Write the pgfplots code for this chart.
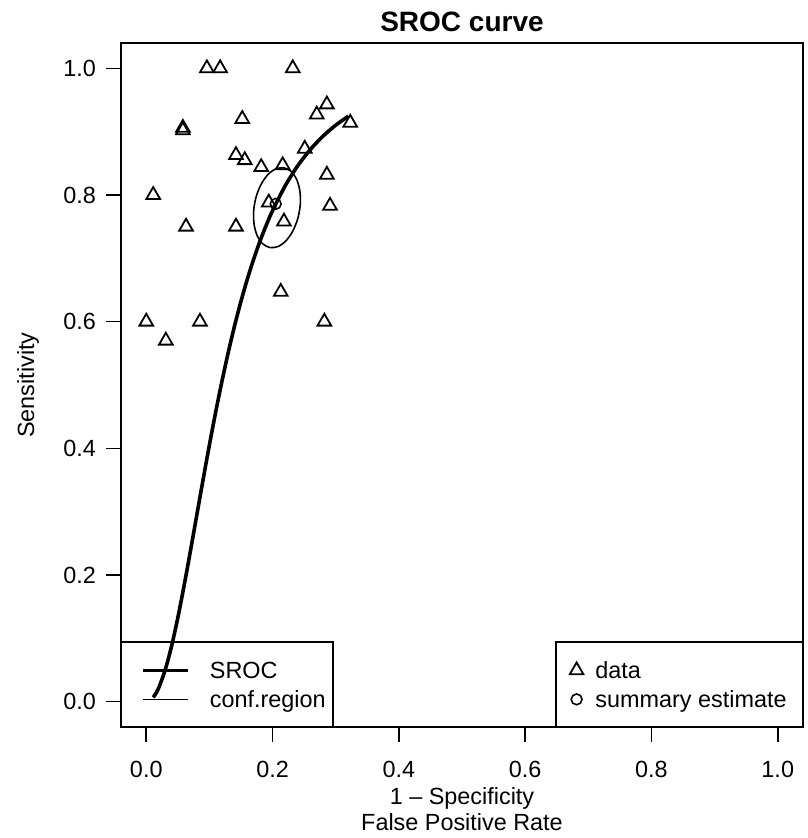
\documentclass[border=0pt]{standalone}
\usepackage{fontspec}
\setmainfont{Liberation Sans}
\usepackage{pgfplots}
\pgfplotsset{compat=1.18}

% SROC curve (fitted line)
\pgfplotstableread{
x y
0.011 0.0068
0.015 0.0126
0.020 0.0225
0.030 0.0502
0.040 0.0874
0.050 0.1326
0.060 0.1836
0.070 0.2382
0.080 0.2945
0.090 0.3506
0.100 0.4053
0.110 0.4575
0.120 0.5065
0.130 0.5521
0.140 0.5940
0.150 0.6322
0.160 0.6670
0.170 0.6984
0.180 0.7268
0.190 0.7523
0.200 0.7753
0.220 0.8145
0.240 0.8463
0.260 0.8720
0.280 0.8930
0.300 0.9102
0.320 0.9244
}\sroc

% confidence region
\pgfplotstableread{
x y
0.2181 0.8430
0.2296 0.8371
0.2383 0.8243
0.2433 0.8061
0.2439 0.7848
0.2400 0.7629
0.2321 0.7431
0.2213 0.7277
0.2087 0.7186
0.1959 0.7170
0.1844 0.7229
0.1757 0.7357
0.1707 0.7539
0.1701 0.7752
0.1740 0.7971
0.1819 0.8169
0.1927 0.8323
0.2053 0.8414
0.2181 0.8430
}\confreg

% study data (fpr, sens)
\pgfplotstableread{
x y
0.096 1.000
0.117 1.000
0.232 1.000
0.286 0.943
0.270 0.927
0.323 0.914
0.152 0.920
0.058 0.906
0.058 0.902
0.142 0.863
0.156 0.855
0.251 0.873
0.182 0.844
0.216 0.847
0.286 0.832
0.011 0.800
0.291 0.783
0.194 0.788
0.218 0.758
0.063 0.750
0.142 0.750
0.213 0.647
0.000 0.600
0.085 0.600
0.282 0.600
0.031 0.570
}\studies

\begin{document}
\fontsize{11.7}{14}\selectfont
\begin{tikzpicture}
\pgfplotsset{
  srocbase/.style={
    width=341pt, height=342pt, scale only axis,
    xmin=-0.04, xmax=1.04, ymin=-0.04, ymax=1.04,
  },
  legbase/.style={
    legend style={anchor=north west, draw=none, fill=none, inner sep=0pt,
      cells={anchor=west}, row sep=2.5pt,
      nodes={inner sep=0pt, text height=10pt, text depth=2pt,
        font=\fontsize{11.7}{14}\selectfont}},
  },
}
\begin{axis}[srocbase, legbase, clip=false,
  axis line style={line width=0.8pt},
  tick style={line width=0.8pt, black},
  tick align=outside, major tick length=7.5pt,
  xtick={0,0.2,0.4,0.6,0.8,1}, ytick={0,0.2,0.4,0.6,0.8,1},
  xtick pos=bottom, ytick pos=left,
  /pgf/number format/fixed, /pgf/number format/fixed zerofill,
  /pgf/number format/precision=1, /pgf/number format/assume math mode=true,
  ticklabel style={font=\fontsize{11.7}{14}\selectfont},
  xticklabel style={yshift=-5.5pt},
  yticklabel style={xshift=-1pt},
  title={SROC curve},
  title style={at={(axis description cs:0.5,1)}, anchor=center, yshift=4.5pt,
    inner sep=0pt, font=\bfseries\fontsize{14}{16}\selectfont},
  xlabel={1 -- Specificity\\False Positive Rate},
  xlabel style={at={([yshift=-30pt]axis description cs:0.5,0)}, anchor=north,
    align=center, inner sep=0pt, font=\fontsize{11.7}{13}\selectfont},
  ylabel={Sensitivity},
  ylabel style={at={([xshift=-46.5pt]axis description cs:0,0.5)}, anchor=center,
    inner sep=0pt, font=\fontsize{11.7}{14}\selectfont},
  legend style={at={(axis cs:-0.0084,0.069)}, column sep=10pt},
  legend image code/.code={\draw[#1] (0pt,0pt) -- (22.5pt,0pt);},
]
\addplot[black, line width=1.8pt, smooth] table {\sroc};
\addlegendentry{SROC}
\addplot[black, line width=0.8pt, smooth] table {\confreg};
\addlegendentry{conf.region}
\draw[line width=0.8pt] (axis cs:-0.04,-0.04) rectangle (axis cs:0.2956,0.0943);
\draw[line width=0.8pt] (axis cs:0.6488,-0.04) rectangle (axis cs:1.04,0.0943);
\end{axis}
\begin{axis}[srocbase, legbase, hide axis,
  legend style={at={(axis cs:0.670,0.069)}, column sep=6pt},
  legend image code/.code={\draw[#1] plot coordinates {(0pt,0pt)};},
]
\addplot[black, only marks, mark=triangle, mark size=3.95pt,
  mark options={line width=0.9pt}] table {\studies};
\addlegendentry{data}
\addplot[black, only marks, mark=o, mark size=2.7pt,
  mark options={line width=0.8pt}] coordinates {(0.205,0.786)};
\addlegendentry{summary estimate}
\end{axis}
\pgfresetboundingbox
\path ([shift={(-60.5pt,-55.5pt)}]current axis.south west)
  rectangle ([shift={(2pt,21.5pt)}]current axis.north east);
\end{tikzpicture}
\end{document}
